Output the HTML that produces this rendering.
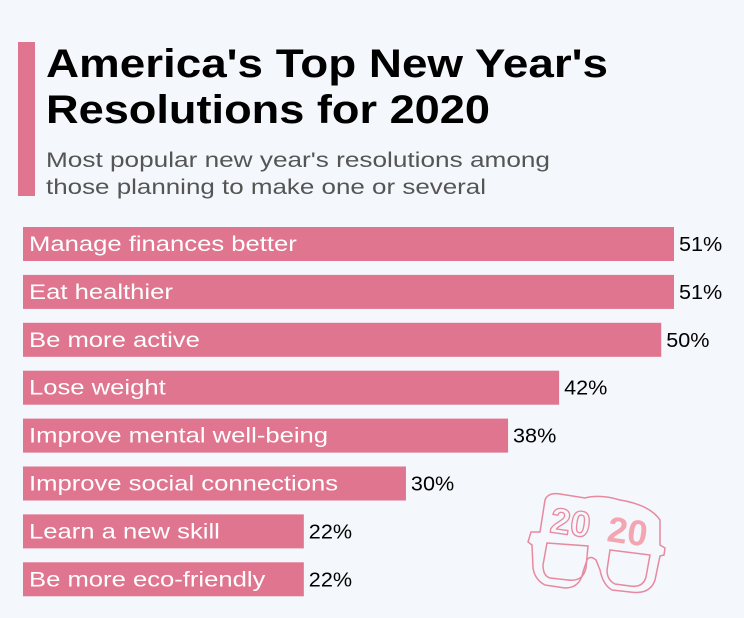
<!DOCTYPE html>
<html><head><meta charset="utf-8"><style>
body{margin:0;background:#f4f7fb;}
svg{display:block;font-family:"Liberation Sans",sans-serif;}
</style></head><body>
<svg id="c" width="744" height="618">
<rect x="0" y="0" width="744" height="618" fill="#f4f7fb"/>
<rect x="18" y="42" width="17" height="154" fill="#e07590"/>
<text x="46" y="77" font-size="40" font-weight="bold" fill="#000" textLength="562" lengthAdjust="spacingAndGlyphs">America's Top New Year's</text>
<text x="46" y="123" font-size="40" font-weight="bold" fill="#000" textLength="444" lengthAdjust="spacingAndGlyphs">Resolutions for 2020</text>
<text x="46" y="167" font-size="21" fill="#555" textLength="504" lengthAdjust="spacingAndGlyphs">Most popular new year's resolutions among</text>
<text x="46" y="194" font-size="21" fill="#555" textLength="440" lengthAdjust="spacingAndGlyphs">those planning to make one or several</text>
<g id="bars"></g>
<g fill="none" stroke="#e8899f" stroke-width="1.5">
<path d="M545,500 Q548,492 560,494 L585,498 Q600,494 620,500 Q650,505 660,520 L660,545 L665,548 L664,555 L660,556 L655,580 Q650,595 630,592 L612,590 Q603,585 600,570 L596,560 Q590,555 587,560 L583,572 Q580,588 565,588 L545,585 Q535,580 533,568 L532,545 L528,542 L531,532 L540,532 Z"/>
<path d="M547,543 L588,546 L586,568 Q583,582 568,580 L550,578 Q543,576 543,565 Z"/>
<path d="M610,550 L650,555 L646,577 Q643,588 630,586 L615,584 Q607,580 607,570 Z"/>
</g>
<text x="549" y="532" font-size="36" font-weight="bold" fill="none" stroke="#e8899f" stroke-width="1.3" transform="rotate(8 549 532)">20</text>
<text x="606" y="541" font-size="36" font-weight="bold" fill="#f4a5b2" transform="rotate(8 606 541)">20</text>
</svg>
<script>
const categories=["Manage finances better","Eat healthier","Be more active","Lose weight","Improve mental well-being","Improve social connections","Learn a new skill","Be more eco-friendly"];
const values=[51,51,50,42,38,30,22,22];
const valueLabels=["51%","51%","50%","42%","38%","30%","22%","22%"];
const NS="http://www.w3.org/2000/svg";
const g=document.getElementById('bars');
const x0=23,pxPer=651/51,y0=227,step=47.9,bh=34;
function xScale(v){return v*pxPer;}
function yScale(i){return y0+i*step;}
categories.forEach((c,i)=>{
 const r=document.createElementNS(NS,'rect');
 r.setAttribute('x',x0);r.setAttribute('y',yScale(i));
 r.setAttribute('width',xScale(values[i]));r.setAttribute('height',bh);
 r.setAttribute('fill','#e07590');
 
 
 g.appendChild(r);
 const t=document.createElementNS(NS,'text');
 t.setAttribute('x',x0+6);t.setAttribute('y',yScale(i)+24);
 t.setAttribute('font-size','21');t.setAttribute('fill','#fff');
 t.textContent=c;
 
 
 g.appendChild(t);
 t.setAttribute('textLength',t.getComputedTextLength()*1.22);
 t.setAttribute('lengthAdjust','spacingAndGlyphs');
 const v=document.createElementNS(NS,'text');
 v.setAttribute('x',x0+xScale(values[i])+5);v.setAttribute('y',yScale(i)+24);
 v.setAttribute('font-size','20');v.setAttribute('fill','#000');
 v.textContent=valueLabels[i];
 
 
 g.appendChild(v);
 v.setAttribute('textLength',v.getComputedTextLength()*1.08);
 v.setAttribute('lengthAdjust','spacingAndGlyphs');
});
</script>
</body></html>
